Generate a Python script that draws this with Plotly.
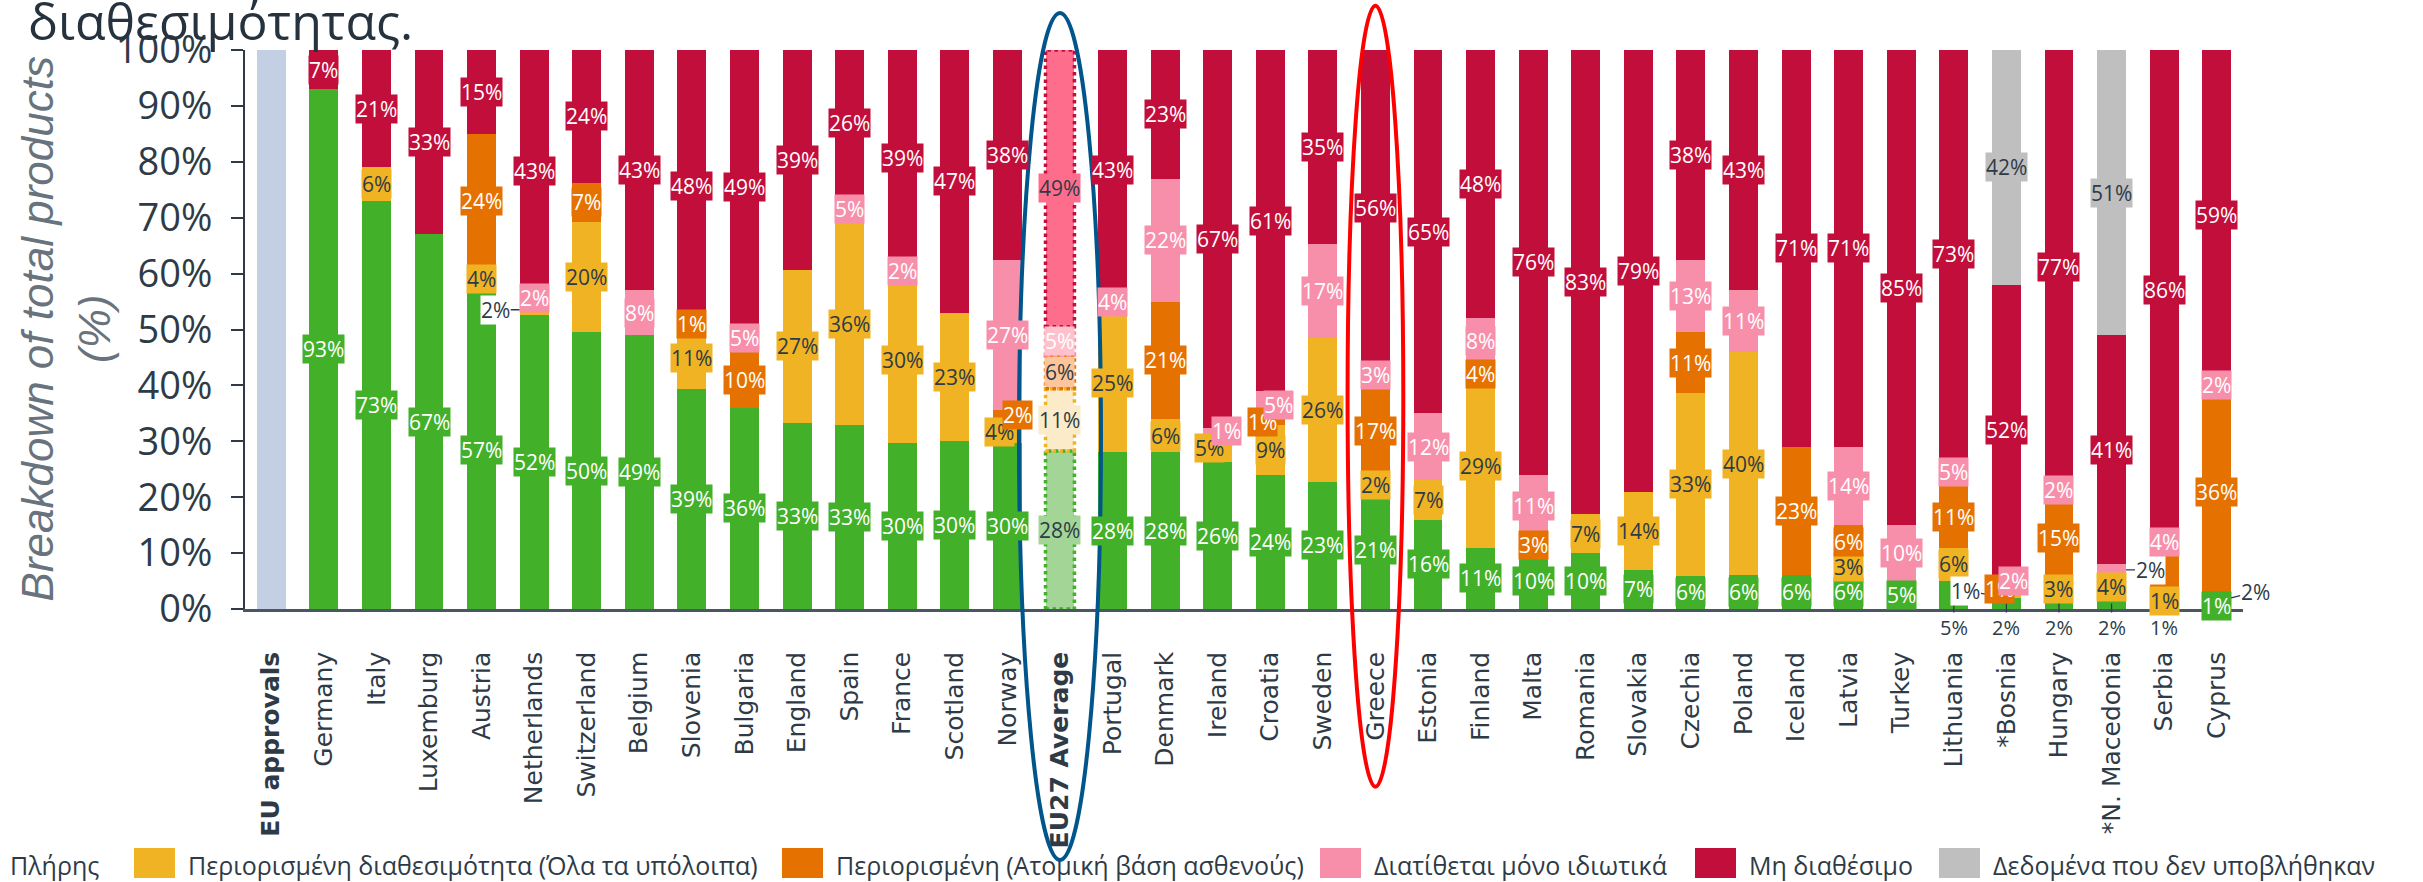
import plotly.graph_objects as go

# ---------------- data ----------------
categories = ["EU approvals", "Germany", "Italy", "Luxemburg", "Austria", "Netherlands",
              "Switzerland", "Belgium", "Slovenia", "Bulgaria", "England", "Spain", "France",
              "Scotland", "Norway", "EU27 Average", "Portugal", "Denmark", "Ireland", "Croatia",
              "Sweden", "Greece", "Estonia", "Finland", "Malta", "Romania", "Slovakia", "Czechia",
              "Poland", "Iceland", "Latvia", "Turkey", "Lithuania", "*Bosnia", "Hungary",
              "*N. Macedonia", "Serbia", "Cyprus"]
bold_categories = ["EU approvals", "EU27 Average"]

eu_approvals =  [100] + [0] * 37
full =          [0, 93, 73, 67, 57, 52, 50, 49, 39, 36, 33, 33, 30, 30, 30, 28, 28, 28, 26, 24, 23, 21,
                 16, 11, 10, 10, 7, 6, 6, 6, 6, 5, 5, 2, 2, 2, 1, 1]
limited_all =   [0, 0, 6, 0, 4, 2, 20, 0, 11, 0, 27, 36, 30, 23, 4, 11, 25, 6, 5, 9, 26, 2,
                 7, 29, 0, 7, 14, 33, 40, 0, 3, 0, 6, 1, 3, 4, 1, 2]
limited_ipb =   [0, 0, 0, 0, 24, 0, 7, 0, 1, 10, 0, 0, 0, 0, 2, 6, 0, 21, 0, 1, 0, 17,
                 0, 4, 3, 0, 0, 11, 0, 23, 6, 0, 11, 1, 15, 0, 8, 36]
private_only =  [0, 0, 0, 0, 0, 2, 0, 8, 0, 5, 0, 5, 2, 0, 27, 5, 4, 22, 1, 5, 17, 3,
                 12, 8, 11, 0, 0, 13, 11, 0, 14, 10, 5, 2, 2, 2, 4, 2]
not_available = [0, 7, 21, 33, 15, 43, 24, 43, 48, 49, 39, 26, 39, 47, 38, 49, 43, 23, 67, 61, 35, 56,
                 65, 48, 76, 83, 79, 38, 43, 71, 71, 85, 73, 52, 77, 41, 86, 59]
not_submitted = [0] * 33 + [42, 0, 51, 0, 0]

legend_labels = ["Πλήρης",
                 "Περιορισμένη διαθεσιμότητα (Όλα τα υπόλοιπα)",
                 "Περιορισμένη (Ατομική βάση ασθενούς)",
                 "Διατίθεται μόνο ιδιωτικά",
                 "Μη διαθέσιμο",
                 "Δεδομένα που δεν υποβλήθηκαν"]
title_text = "διαθεσιμότητας."
y_title = "<i>Breakdown of total products<br>(%)</i>"
highlight_avg = "EU27 Average"
highlight_country = "Greece"

# ---------------- style ----------------
DARK = "#2e3b47"
W, H = 2423, 882
ML, MR, MT, MB = 245, 180, 50, 273
BARGAP = 0.45
HALF = (1 - BARGAP) / 2
LABEL_SIZE = 21
colors = ["#43b02a", "#f0b323", "#e57200", "#f78fab", "#c20e3a", "#bfbfbf"]
light = ["#a3d597", "#fcebc8", "#fec59a", "#ffc2cc", "#ff6d8c", "#dddddd"]
text_col = ["white", DARK, "white", "white", "white", DARK]
series = [full, limited_all, limited_ipb, private_only, not_available, not_submitted]

# label placement tweaks (series index: 0 green .. 5 grey)
shift_px = {("Norway", 1): -8, ("Norway", 2): 10, ("Ireland", 1): -8, ("Ireland", 3): 9,
            ("Croatia", 2): -8, ("Croatia", 3): 8, ("*Bosnia", 2): -7, ("*Bosnia", 3): 7}
outside = {("Netherlands", 1): (-24, 0), ("*Bosnia", 1): (-26, -4),
           ("*N. Macedonia", 3): (24, 0), ("Cyprus", 1): (24, -6)}
below = {("Lithuania", 0), ("*Bosnia", 0), ("Hungary", 0), ("*N. Macedonia", 0), ("Serbia", 0)}
hidden = {("Serbia", 2)}

fig = go.Figure()
fig.add_trace(go.Bar(x=categories, y=eu_approvals, marker=dict(color="#c3cfe2", line=dict(width=0)),
                     name="EU approvals", showlegend=False))
for k, vals in enumerate(series):
    cols = [light[k] if c == highlight_avg else colors[k] for c in categories]
    fig.add_trace(go.Bar(x=categories, y=vals, name=legend_labels[k], showlegend=False,
                         marker=dict(color=cols, line=dict(width=0))))

# normalised stack positions (barnorm = percent)
totals = [eu_approvals[i] + sum(s[i] for s in series) for i in range(len(categories))]
annotations = []
shapes = []
for i, cat in enumerate(categories):
    base = eu_approvals[i] * 100.0 / totals[i]
    for k, vals in enumerate(series):
        v = vals[i]
        if v <= 0:
            continue
        h = v * 100.0 / totals[i]
        lo, hi = base, base + h
        base = hi
        mid = (lo + hi) / 2
        is_avg = cat == highlight_avg
        if is_avg:
            shapes.append(dict(type="rect", xref="x", yref="y", x0=i - HALF, x1=i + HALF,
                               y0=lo, y1=hi, line=dict(color=colors[k], width=3.5, dash="dot"),
                               fillcolor="rgba(0,0,0,0)", layer="above"))
        key = (cat, k)
        if key in hidden:
            continue
        txt = f"{v}%"
        if key in below:
            annotations.append(dict(x=i, y=mid, xref="x", yref="y", text=txt, showarrow=True,
                                    ax=0, ay=-3.3, ayref="y", arrowhead=0, arrowwidth=1.3,
                                    arrowcolor=DARK, standoff=0,
                                    font=dict(family="Open Sans", size=LABEL_SIZE - 1, color=DARK)))
        elif key in outside:
            dx, dy = outside[key]
            px = i + (HALF if dx > 0 else -HALF)
            annotations.append(dict(x=px, y=mid, xref="x", yref="y", text=txt, showarrow=True,
                                    ax=dx, ay=dy, arrowhead=0, arrowwidth=1.3, arrowcolor=DARK,
                                    standoff=0, bgcolor="white", borderpad=0,
                                    font=dict(family="Open Sans", size=LABEL_SIZE, color=DARK)))
        else:
            annotations.append(dict(x=i, y=mid, xref="x", yref="y", text=txt, showarrow=False,
                                    xshift=shift_px.get(key, 0),
                                    bgcolor=light[k] if is_avg else colors[k], borderpad=0,
                                    font=dict(family="Open Sans", size=LABEL_SIZE,
                                              color=DARK if (is_avg and k != 3) else text_col[k])))

# highlight ellipses
ia = categories.index(highlight_avg)
ig = categories.index(highlight_country)
shapes.append(dict(type="circle", xref="x", yref="paper", x0=ia - 0.78, x1=ia + 0.78,
                   y0=-0.449, y1=1.066, line=dict(color="#00568a", width=4), layer="above"))
shapes.append(dict(type="circle", xref="x", yref="paper", x0=ig - 0.53, x1=ig + 0.53,
                   y0=-0.318, y1=1.079, line=dict(color="#ff0000", width=4), layer="above"))

# manual legend row (wider than the canvas, as in the source)
PW, PH = W - ML - MR, H - MT - MB
def px2x(p): return (p - ML) / PW
def py2y(p): return (H - MB - p) / PH
swatch_px = [-44, 134, 782, 1320, 1695, 1939]
for k, lab in enumerate(legend_labels):
    sx = swatch_px[k]
    shapes.append(dict(type="rect", xref="paper", yref="paper", x0=px2x(sx), x1=px2x(sx + 41),
                       y0=py2y(878), y1=py2y(848), fillcolor=colors[k], line=dict(width=0)))
    annotations.append(dict(x=px2x(sx + 52), y=py2y(865), xref="paper", yref="paper",
                            text=lab, showarrow=False, xanchor="left", yanchor="middle",
                            font=dict(family="Open Sans", size=25, color=DARK)))

# y axis title (rotated, two lines)
annotations.append(dict(x=px2x(65), y=0.5, xref="paper", yref="paper", text=y_title,
                        textangle=-90, showarrow=False, xanchor="center", yanchor="middle",
                        font=dict(family="Liberation Sans, Arial", size=44, color="#68737d")))

ticktext = [f"<b>{c}</b>" if c in bold_categories else c for c in categories]

fig.update_layout(
    width=W, height=H, barmode="stack", barnorm="percent", bargap=BARGAP,
    margin=dict(l=ML, r=MR, t=MT, b=MB, pad=0),
    plot_bgcolor="white", paper_bgcolor="white",
    showlegend=False,
    title=dict(text=title_text, x=28 / W, xanchor="left", xref="container",
               y=1 - 40 / H, yanchor="bottom", yref="container",
               font=dict(family="Open Sans", size=50, color="#26333e")),
    xaxis=dict(type="category", range=[-0.5, len(categories) - 0.5], tickvals=categories,
               ticktext=ticktext, tickangle=-90, ticks="", ticklabelstandoff=30,
               tickfont=dict(family="DejaVu Sans", size=25, color=DARK),
               showline=True, linecolor="#4a5763", linewidth=2.5, showgrid=False, zeroline=False),
    yaxis=dict(range=[0, 100], dtick=10, ticksuffix="%", ticks="outside", ticklen=12,
               tickwidth=2, tickcolor=DARK, ticklabelstandoff=11,
               tickfont=dict(family="Open Sans", size=38, color=DARK),
               showline=True, linecolor=DARK, linewidth=2, showgrid=False, zeroline=False),
    annotations=annotations, shapes=shapes,
)

fig.write_html("out.html")
